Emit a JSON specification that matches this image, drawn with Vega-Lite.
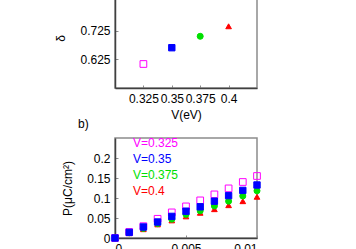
{
  "$schema": "https://vega.github.io/schema/vega-lite/v6.json",
  "padding": {"left": 54, "top": -13, "right": 0, "bottom": 0},
  "background": "white",
  "bounds": "flush",
  "spacing": 50,
  "config": {
    "font": "Liberation Sans",
    "view": {"stroke": "#8c8c8c", "strokeWidth": 1.5},
    "axis": {
      "labelFont": "Liberation Sans", "labelFontSize": 12, "labelColor": "black",
      "titleFont": "Liberation Sans", "titleFontSize": 12, "titleFontWeight": "normal", "titleColor": "black",
      "domainColor": "#404040", "domainWidth": 1.5,
      "tickColor": "#8c8c8c", "tickSize": -3, "labelPadding": 8,
      "grid": false
    }
  },
  "datasets": {
    "delta": [
      {"V": "V=0.325", "Ve": 0.325, "delta": 0.609},
      {"V": "V=0.35", "Ve": 0.35, "delta": 0.666},
      {"V": "V=0.375", "Ve": 0.375, "delta": 0.706},
      {"V": "V=0.4", "Ve": 0.4, "delta": 0.741}
    ],
    "pol": [
      {"V": "V=0.4", "x": 0, "P": 0},
      {"V": "V=0.4", "x": 0.001, "P": 0.012},
      {"V": "V=0.4", "x": 0.002, "P": 0.022},
      {"V": "V=0.4", "x": 0.003, "P": 0.034},
      {"V": "V=0.4", "x": 0.004, "P": 0.044},
      {"V": "V=0.4", "x": 0.005, "P": 0.054},
      {"V": "V=0.4", "x": 0.006, "P": 0.063},
      {"V": "V=0.4", "x": 0.007, "P": 0.072},
      {"V": "V=0.4", "x": 0.008, "P": 0.082},
      {"V": "V=0.4", "x": 0.009, "P": 0.092},
      {"V": "V=0.4", "x": 0.01, "P": 0.103},
      {"V": "V=0.375", "x": 0, "P": 0},
      {"V": "V=0.375", "x": 0.001, "P": 0.013},
      {"V": "V=0.375", "x": 0.002, "P": 0.024},
      {"V": "V=0.375", "x": 0.003, "P": 0.036},
      {"V": "V=0.375", "x": 0.004, "P": 0.047},
      {"V": "V=0.375", "x": 0.005, "P": 0.059},
      {"V": "V=0.375", "x": 0.006, "P": 0.068},
      {"V": "V=0.375", "x": 0.007, "P": 0.080},
      {"V": "V=0.375", "x": 0.008, "P": 0.092},
      {"V": "V=0.375", "x": 0.009, "P": 0.105},
      {"V": "V=0.375", "x": 0.01, "P": 0.118},
      {"V": "V=0.325", "x": 0, "P": 0},
      {"V": "V=0.325", "x": 0.001, "P": 0.015},
      {"V": "V=0.325", "x": 0.002, "P": 0.0295},
      {"V": "V=0.325", "x": 0.003, "P": 0.048},
      {"V": "V=0.325", "x": 0.004, "P": 0.064},
      {"V": "V=0.325", "x": 0.005, "P": 0.079},
      {"V": "V=0.325", "x": 0.006, "P": 0.094},
      {"V": "V=0.325", "x": 0.007, "P": 0.109},
      {"V": "V=0.325", "x": 0.008, "P": 0.124},
      {"V": "V=0.325", "x": 0.009, "P": 0.140},
      {"V": "V=0.325", "x": 0.01, "P": 0.155},
      {"V": "V=0.35", "x": 0, "P": 0},
      {"V": "V=0.35", "x": 0.001, "P": 0.014},
      {"V": "V=0.35", "x": 0.002, "P": 0.0275},
      {"V": "V=0.35", "x": 0.003, "P": 0.040},
      {"V": "V=0.35", "x": 0.004, "P": 0.054},
      {"V": "V=0.35", "x": 0.005, "P": 0.067},
      {"V": "V=0.35", "x": 0.006, "P": 0.078},
      {"V": "V=0.35", "x": 0.007, "P": 0.092},
      {"V": "V=0.35", "x": 0.008, "P": 0.106},
      {"V": "V=0.35", "x": 0.009, "P": 0.119},
      {"V": "V=0.35", "x": 0.01, "P": 0.1325}
    ]
  },
  "resolve": {"scale": {"color": "independent", "fill": "independent", "shape": "independent", "size": "independent"}, "legend": {"color": "independent"}},
  "vconcat": [
    {
      "width": 142, "height": 100,
      "data": {"name": "delta"},
      "mark": {"type": "point", "filled": false, "opacity": 1, "strokeWidth": 1},
      "encoding": {
        "x": {"field": "Ve", "type": "quantitative", "scale": {"domain": [0.3, 0.425], "nice": false, "zero": false},
              "axis": {"title": "V(eV)", "values": [0.325, 0.35, 0.375, 0.4], "format": ".3~f", "titlePadding": 5}},
        "y": {"field": "delta", "type": "quantitative", "scale": {"domain": [0.525, 0.875], "nice": false, "zero": false},
              "axis": {"title": "δ", "values": [0.625, 0.725], "format": ".3~f", "titlePadding": 12}},
        "color": {"field": "V", "type": "nominal", "legend": null,
                  "scale": {"domain": ["V=0.325", "V=0.35", "V=0.375", "V=0.4"], "range": ["#ff00ff", "#0000ff", "#00e000", "#ff0000"]}},
        "fill": {"field": "V", "type": "nominal", "legend": null,
                 "scale": {"domain": ["V=0.325", "V=0.35", "V=0.375", "V=0.4"], "range": ["transparent", "#0000ff", "#00e000", "#ff0000"]}},
        "shape": {"field": "V", "type": "nominal", "legend": null,
                  "scale": {"domain": ["V=0.325", "V=0.35", "V=0.375", "V=0.4"], "range": ["square", "square", "circle", "triangle-up"]}},
        "size": {"field": "V", "type": "nominal", "legend": null,
                 "scale": {"domain": ["V=0.325", "V=0.35", "V=0.375", "V=0.4"], "range": [45, 32, 30, 28]}}
      }
    },
    {
      "width": 142, "height": 100,
      "data": {"name": "pol"},
      "title": {"text": "b)", "anchor": "start", "frame": "group", "dx": -37, "offset": 6, "fontSize": 12, "fontWeight": "normal", "font": "Liberation Sans", "color": "black"},
      "mark": {"type": "point", "filled": false, "opacity": 1, "strokeWidth": 1},
      "encoding": {
        "x": {"field": "x", "type": "quantitative", "scale": {"domain": [0, 0.01], "nice": false},
              "axis": {"title": null, "values": [0, 0.005, 0.01], "format": ".3~f"}},
        "y": {"field": "P", "type": "quantitative", "scale": {"domain": [0, 0.25], "nice": false},
              "axis": {"title": "P(μC/cm²)", "values": [0, 0.05, 0.1, 0.15, 0.2], "format": ".3~f", "titlePadding": 12}},
        "color": {"field": "V", "type": "nominal",
                  "scale": {"domain": ["V=0.325", "V=0.35", "V=0.375", "V=0.4"], "range": ["#ff00ff", "#0000ff", "#00e000", "#ff0000"]},
                  "legend": {"title": null, "orient": "none", "legendX": 6, "legendY": -1, "padding": 0,
                             "symbolSize": 1, "symbolOpacity": 0, "labelOffset": 0,
                             "labelFont": "Liberation Sans", "labelFontSize": 12, "rowPadding": 4,
                             "labelColor": {"expr": "datum.value === 'V=0.325' ? '#ff00ff' : datum.value === 'V=0.35' ? '#0000ff' : datum.value === 'V=0.375' ? '#00e000' : '#ff0000'"}}},
        "fill": {"field": "V", "type": "nominal", "legend": null,
                 "scale": {"domain": ["V=0.325", "V=0.35", "V=0.375", "V=0.4"], "range": ["transparent", "#0000ff", "#00e000", "#ff0000"]}},
        "shape": {"field": "V", "type": "nominal", "legend": null,
                  "scale": {"domain": ["V=0.325", "V=0.35", "V=0.375", "V=0.4"], "range": ["square", "square", "circle", "triangle-up"]}},
        "size": {"field": "V", "type": "nominal", "legend": null,
                 "scale": {"domain": ["V=0.325", "V=0.35", "V=0.375", "V=0.4"], "range": [45, 32, 30, 28]}}
      }
    }
  ]
}
